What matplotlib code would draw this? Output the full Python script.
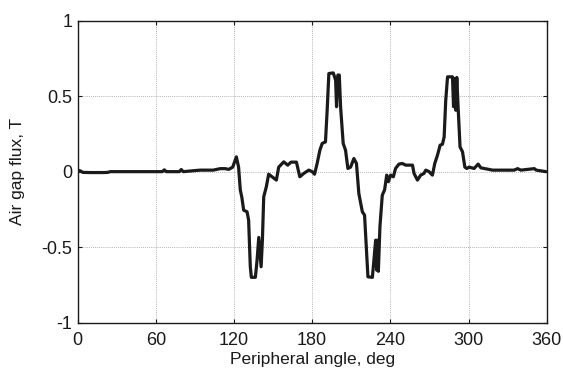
import numpy as np
import matplotlib.pyplot as plt

plt.rcParams["font.family"] = ["Liberation Sans", "DejaVu Sans"]

# angle (deg) and flux (T)
angle = [0, 2, 4, 10, 20, 23, 25, 40, 60, 65, 66.5, 68, 78, 79.5, 81, 94, 104,
         109.5, 113, 116, 119, 121.8, 123.5, 124.8, 126, 127.4, 130, 131.2, 132.5,
         133.3, 136.4, 137.7, 139, 140.8, 141.8, 142.8, 144.8, 146.6, 149.2, 152.5,
         154.3, 158.2, 161.2, 163.8, 167.9, 170.5, 173.5, 177.4, 180, 181.8, 183.8,
         185.9, 187.7, 190.2, 191.5, 192.8, 196.2, 198, 198.7, 199.7, 200.8, 201.8,
         203.8, 205.6, 207.4, 209.5, 212, 214, 215.8, 218.5, 220.2, 222.8, 226.2,
         227.4, 228.7, 229.5, 230, 230.8, 232, 233.8, 235.6, 237.2, 238.5, 240.2,
         242.3, 244, 246.6, 249.2, 251.8, 257, 258.2, 260.8, 263.3, 265.8, 267.2,
         269.7, 272.3, 274.1, 276.2, 278.2, 280, 281.3, 282.5, 283.9, 286.4, 287.7,
         288.5, 289.5, 290.2, 291, 292, 293.5, 295.4, 297.2, 298.7, 300.5, 304.3,
         307.4, 309.5, 312, 318.5, 335, 337.7, 340.2, 350.5, 352, 359.5]
flux = [0.01, 0.005, -0.005, -0.006, -0.006, -0.005, 0.0, 0.0, 0.0, 0.0, 0.012,
        0.0, 0.0, 0.014, 0.0, 0.01, 0.01,
        0.02, 0.02, 0.015, 0.03, 0.098, 0.03, -0.12, -0.17, -0.255, -0.266, -0.32,
        -0.63, -0.70, -0.70, -0.586, -0.436, -0.63, -0.45, -0.167, -0.10, -0.017,
        -0.034, -0.056, 0.03, 0.065, 0.043, 0.063, 0.063, -0.034, -0.012, 0.01,
        0.0, -0.017, 0.054, 0.142, 0.187, 0.197, 0.407, 0.65, 0.654, 0.606, 0.43,
        0.64, 0.64, 0.43, 0.187, 0.142, 0.021, 0.03, 0.087, 0.054, -0.144, -0.266,
        -0.288, -0.697, -0.70, -0.586, -0.454, -0.652, -0.454, -0.66, -0.365,
        -0.156, -0.12, -0.023, -0.067, -0.023, -0.034, 0.021, 0.05, 0.054, 0.043,
        0.043, -0.012, -0.056, -0.023, -0.012, 0.01, 0.0, -0.023, 0.054, 0.11,
        0.175, 0.182, 0.23, 0.47, 0.628, 0.628, 0.628, 0.43, 0.617, 0.407, 0.624,
        0.43, 0.164, 0.131, 0.03, 0.021, 0.03, 0.021, 0.05, 0.025, 0.021, 0.01,
        0.01, 0.02, 0.01, 0.02, 0.01, 0.0]

xticks = [0, 60, 120, 180, 240, 300, 360]
yticks = [-1, -0.5, 0, 0.5, 1]
ytick_labels = ["-1", "-0.5", "0", "0.5", "1"]

fig = plt.figure(figsize=(5.63, 3.76), dpi=100)
ax = fig.add_axes([0.138, 0.142, 0.833, 0.803])

ax.plot(angle, flux, color="#1a1a1a", linewidth=2.3,
        solid_joinstyle="round", solid_capstyle="round")

ax.set_xlim(0, 360)
ax.set_ylim(-1, 1)
ax.set_xticks(xticks)
ax.set_yticks(yticks)
ax.set_yticklabels(ytick_labels)
ax.grid(True, color="#999999", linestyle=(0, (1, 1.5)), linewidth=0.6)
ax.tick_params(direction="in", top=True, right=True, length=3, width=0.8,
               labelsize=13, colors="#1a1a1a")
ax.tick_params(axis="x", pad=7)
ax.tick_params(axis="y", pad=4)
for s in ax.spines.values():
    s.set_linewidth(1.0)
    s.set_color("#1a1a1a")

ax.set_xlabel("Peripheral angle, deg", fontsize=12.5, labelpad=2, color="#1a1a1a")
ax.set_ylabel("Air gap flux, T", fontsize=12.5, labelpad=12, color="#1a1a1a")

fig.savefig("out.png", dpi=100)
